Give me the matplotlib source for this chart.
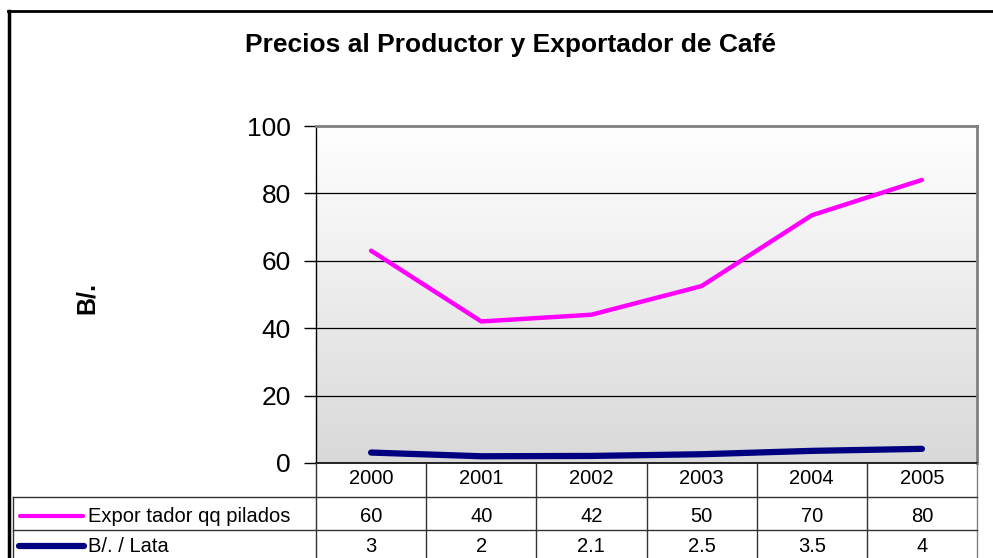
import numpy as np
import matplotlib
matplotlib.use("Agg")
import matplotlib.pyplot as plt
from matplotlib import transforms
from matplotlib.lines import Line2D
from matplotlib.colors import LinearSegmentedColormap

plt.rcParams['font.family'] = ['Liberation Sans', 'DejaVu Sans']

# ---- data ----
years = ["2000", "2001", "2002", "2003", "2004", "2005"]
exportador_plot = [63, 42, 44, 52.5, 73.5, 84]      # as drawn on the chart
lata_plot = [3.1, 2.0, 2.1, 2.6, 3.6, 4.2]
exportador_table = ["60", "40", "42", "50", "70", "80"]  # as printed in the data table
lata_table = ["3", "2", "2.1", "2.5", "3.5", "4"]
series_names = ["Expor tador qq pilados", "B/. / Lata"]
title = "Precios al Productor y Exportador de Café"
ylabel = "B/."
yticks = [0, 20, 40, 60, 80, 100]

W, H = 993, 558
fig = plt.figure(figsize=(W / 100, H / 100), dpi=100)

def fx(px):
    return px / W

def fy(py):
    return 1 - py / H

L, R, T, B = 316, 977, 126, 463
ax = fig.add_axes([fx(L), fy(B), fx(R) - fx(L), fy(T) - fy(B)])

x = np.arange(len(years))

# gradient background (white at top to light gray at bottom)
grad = np.linspace(0, 1, 256).reshape(-1, 1)
cmap = LinearSegmentedColormap.from_list("bg", ["#ffffff", "#d9d9d9"])
ax.imshow(grad, aspect='auto', cmap=cmap, extent=(-0.5, len(years) - 0.5, 0, 100),
          origin='upper', zorder=0)
ax.set_xlim(-0.5, len(years) - 0.5)
ax.set_ylim(0, 100)

for yv in yticks[1:-1]:
    ax.axhline(yv, color='black', lw=0.9, zorder=1)

ax.plot(x, exportador_plot, color='#ff00ff', lw=3.2, solid_capstyle='round', zorder=3)
ax.plot(x, lata_plot, color='#000080', lw=4.5, solid_capstyle='round', zorder=3)

ax.set_yticks(yticks)
ax.set_yticklabels([str(v) for v in yticks], fontsize=19)
ax.tick_params(axis='y', length=9, width=1, direction='out', pad=9)
ax.set_xticks([])
for side in ['top', 'right']:
    ax.spines[side].set_color('#808080')
    ax.spines[side].set_linewidth(2)
ax.spines['left'].set_color('black')
ax.spines['left'].set_linewidth(1)
ax.spines['bottom'].set_color('black')
ax.spines['bottom'].set_linewidth(1.2)

# title and y label
fig.text(fx(510), fy(45), title, ha='center', va='center', fontsize=19, fontweight='bold')
fig.text(fx(87), fy(298), ylabel, ha='center', va='center', fontsize=18,
         fontweight='bold', rotation=90)

# outer chart frame
fig.add_artist(Line2D([fx(9), fx(9)], [fy(11), fy(H + 5)], color='black', lw=2.5))
fig.add_artist(Line2D([fx(8), fx(W + 5)], [fy(11), fy(11)], color='black', lw=2))

# ---- data table ----
tr_x = transforms.blended_transform_factory(ax.transData, fig.transFigure)
row_h = [463, 497, 530, 563]
lc = '#333333'
for b in np.arange(len(years) + 1) - 0.5:
    col = '#808080' if b == len(years) - 0.5 else lc
    fig.add_artist(Line2D([b, b], [fy(463), fy(H + 5)], transform=tr_x, color=col, lw=1))
fig.add_artist(Line2D([fx(13), fx(13)], [fy(497), fy(H + 5)], color=lc, lw=1))
for ry in row_h[1:3]:
    fig.add_artist(Line2D([fx(13), fx(R)], [fy(ry), fy(ry)], color=lc, lw=1))

fs = 14.5
row_text_y = [479, 516, 546]
for i, yr in enumerate(years):
    fig.text(x[i], fy(row_text_y[0]), yr, transform=tr_x, ha='center', va='center', fontsize=fs)
    fig.text(x[i], fy(row_text_y[1]), exportador_table[i], transform=tr_x, ha='center', va='center', fontsize=fs)
    fig.text(x[i], fy(row_text_y[2]), lata_table[i], transform=tr_x, ha='center', va='center', fontsize=fs)

# legend keys
fig.add_artist(Line2D([fx(20), fx(83)], [fy(516), fy(516)], color='#ff00ff', lw=3, solid_capstyle='round'))
fig.add_artist(Line2D([fx(19), fx(84)], [fy(546), fy(546)], color='#000080', lw=4.5, solid_capstyle='round'))
fig.text(fx(88), fy(516), series_names[0], ha='left', va='center', fontsize=14.5)
fig.text(fx(88), fy(546), series_names[1], ha='left', va='center', fontsize=14.5)

fig.savefig("out.png", dpi=100)
